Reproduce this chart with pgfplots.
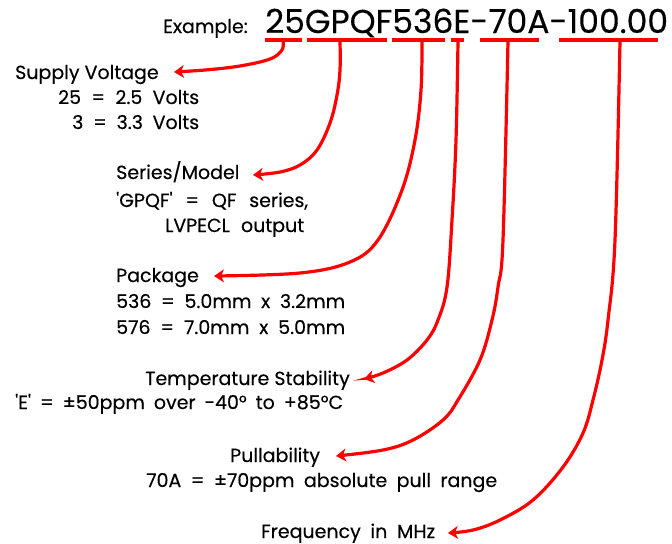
\documentclass[border=0pt]{standalone}
\usepackage{pgfplots}
\pgfplotsset{compat=1.18}
\usepackage{fontspec}
\setmainfont{Poppins}[FakeBold=0.3]
\usetikzlibrary{arrows.meta}
\definecolor{arr}{RGB}{255,0,0}
\newcommand\sq{\textquotesingle}
\begin{document}
\begin{tikzpicture}
\begin{axis}[x=1bp, y=1bp, xmin=0, xmax=672, ymin=0, ymax=544, y dir=reverse,
  hide axis, clip=false, scale only axis, anchor=north west, at={(0,0)}]
\addplot[draw=none] coordinates {(0,0) (672,544)};
% underlines
\addplot[arr, line width=3.5bp] coordinates {(265,40) (302,40)};
\addplot[arr, line width=3.5bp] coordinates {(307,40) (387,40)};
\addplot[arr, line width=3.5bp] coordinates {(392,40) (445,40)};
\addplot[arr, line width=3.5bp] coordinates {(451,40) (464,40)};
\addplot[arr, line width=3.5bp] coordinates {(480,40) (539,40)};
\addplot[arr, line width=3.5bp] coordinates {(559,40) (658,40)};
% curved arrows
\tikzset{myarr/.style={arr, line width=3.2bp, smooth, tension=0.6, -{Stealth[length=10bp, width=13bp, inset=3bp]}}}
\addplot[myarr] coordinates {(283,41) (282,50) (270,59) (240,66) (205,70) (174,72)};
\addplot[myarr] coordinates {(340,41) (340,70) (337,95) (330,123) (317,150) (300,165) (280,172) (253,175)};
\addplot[myarr] coordinates {(422,41) (421,90) (415,140) (402,190) (378,240) (350,262) (300,273) (214,276)};
\addplot[myarr] coordinates {(458,41) (456,140) (452,220) (447,287) (438,320) (427,340) (407,360) (383,373) (364,379)};
\addplot[myarr] coordinates {(508,41) (503,240) (498,287) (492,320) (480,360) (458,400) (443,420) (413,440) (383,450) (336,456)};
\addplot[myarr] coordinates {(620,41) (615,240) (608,320) (602,360) (593,400) (583,433) (563,467) (533,500) (500,520) (473,530) (448,533)};
% texts
\tikzset{t/.style={anchor=base west, inner sep=0pt, font=\fontsize{19bp}{22bp}\selectfont}}
\node[t] at (axis cs:163,33) {Example:};
\node[anchor=base west, inner sep=0pt, font=\fontsize{33bp}{36bp}\selectfont] at (axis cs:265,33) {25GPQF536E-70A-100.00};
\node[t] at (axis cs:15,79) {Supply Voltage};
\node[t] at (axis cs:58,104) {\makebox[141bp][s]{25 = 2.5 Volts}};
\node[t] at (axis cs:72,129) {\makebox[127bp][s]{3 = 3.3 Volts}};
\node[t] at (axis cs:116,179) {Series/Model};
\node[t] at (axis cs:116,207) {\makebox[192bp][s]{\sq GPQF\sq{} = QF series,}};
\node[t] at (axis cs:165,232) {\makebox[139bp][s]{LVPECL output}};
\node[t] at (axis cs:116,282) {Package};
\node[t] at (axis cs:116,308) {\makebox[229bp][s]{536 = 5.0mm x 3.2mm}};
\node[t] at (axis cs:116,334) {\makebox[229bp][s]{576 = 7.0mm x 5.0mm}};
\node[t] at (axis cs:145,385) {Temperature Stability};
\node[t] at (axis cs:15,409) {\makebox[328bp][s]{\sq E\sq{} = ±50ppm over -40° to +85°C}};
\node[t] at (axis cs:230,462) {Pullability};
\node[t] at (axis cs:146,487) {\makebox[351bp][s]{70A = ±70ppm absolute pull range}};
\node[t] at (axis cs:261,538) {\makebox[174bp][s]{Frequency in MHz}};
\end{axis}
\end{tikzpicture}
\end{document}
